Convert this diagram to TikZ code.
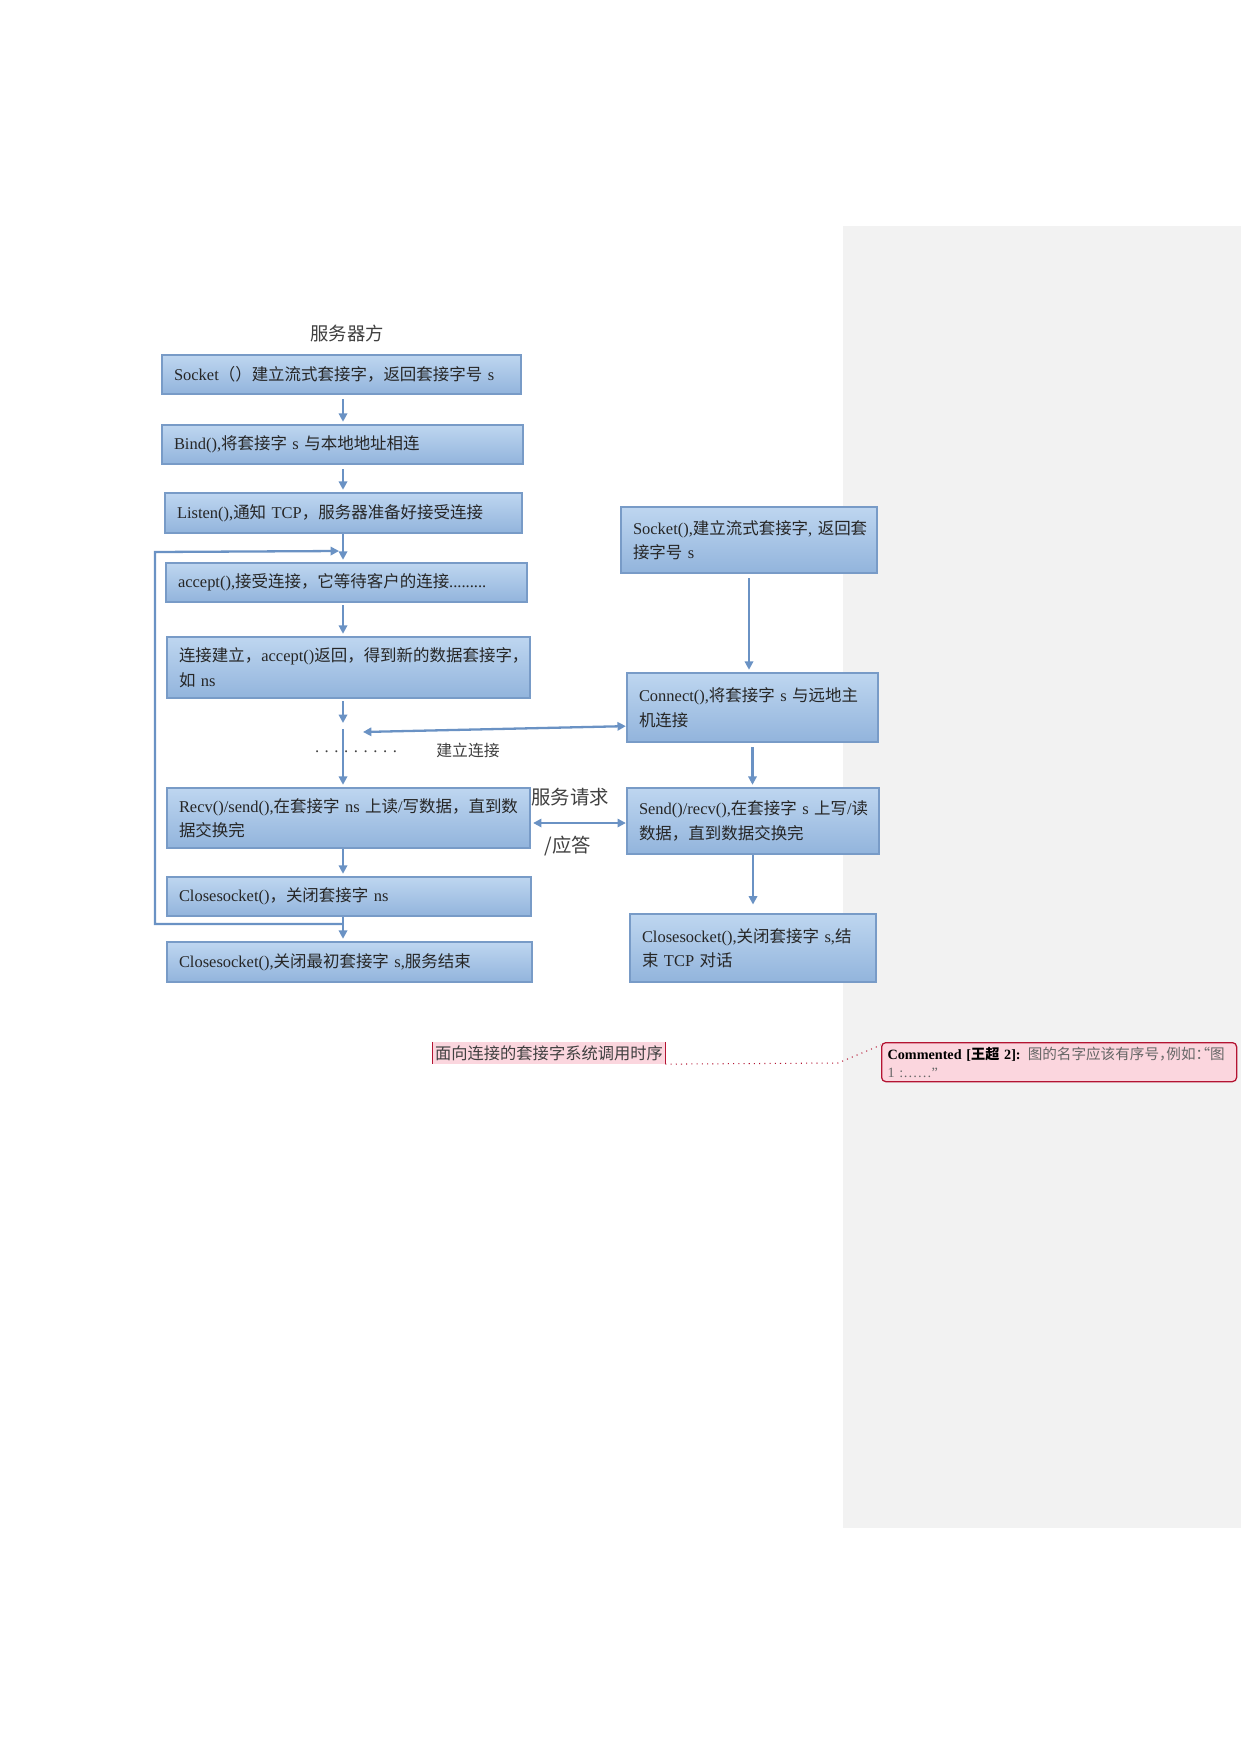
\documentclass[tikz,border=0pt]{standalone}
\usepackage{fontspec}
\setmainfont{Liberation Serif}
\newfontfamily\cjk{Noto Sans CJK SC}
\newfontfamily\cjkh{Noto Sans CJK SC}[RawFeature=+halt]
\newcommand\zh[1]{{\cjk #1}}
\usetikzlibrary{arrows.meta,calc}
\def\pu{0.4797pt}
\definecolor{boxtop}{RGB}{190,214,240}
\definecolor{boxbot}{RGB}{146,180,220}
\definecolor{boxline}{RGB}{120,155,199}
\definecolor{arrowc}{RGB}{106,146,196}
\definecolor{panel}{RGB}{242,242,242}
\definecolor{pinkf}{RGB}{251,214,222}
\definecolor{redl}{RGB}{180,20,50}
\begin{document}
\begin{tikzpicture}[x=0.4797pt,y=-0.4797pt,
  box/.style n args={2}{draw=boxline, line width=1.1pt, top color=boxtop, bottom color=boxbot,
    minimum width=#1*\pu, text width=(#1-24)*\pu, minimum height=#2*\pu,
    inner xsep=12*\pu, inner ysep=0pt, align=left, text=black!85,
    font=\fontsize{7.9}{11.7}\selectfont},
  arr/.style={draw=arrowc, line width=1.1pt, -{Triangle[length=4pt,width=4pt]}},
  darr/.style={draw=arrowc, line width=1.1pt, {Triangle[length=4pt,width=4pt]}-{Triangle[length=4pt,width=4pt]}},
  lbl/.style={text=black!75, inner sep=0pt}]
\fill[white] (0,0) rectangle (1241,1754);
\useasboundingbox (0,0) rectangle (1241,1754);
\fill[panel] (843,226) rectangle (1241,1528);

% title
\node[lbl, font=\cjk\fontsize{8.8}{10}\selectfont] (title) at (347,333) {服务器方};

% server column
\node[box={359}{39}] (s1) at (341.5,374.5) {\mbox{Socket\zh{（）建立流式套接字，返回套接字号} s}};
\node[box={361}{39}] (s2) at (342.5,444.5) {\mbox{Bind(),\zh{将套接字} s \zh{与本地地址相连}}};
\node[box={357}{40}] (s3) at (343.5,513) {\mbox{Listen(),\zh{通知} TCP\zh{，服务器准备好接受连接}}};
\node[box={361}{39}] (s4) at (346.5,582.5) {\mbox{accept(),\zh{接受连接，它等待客户的连接}.........}};
\node[box={363}{61}] (s5) at (348.5,667.5) {\mbox{\zh{连接建立，}accept()\zh{返回，得到新的数据套接字，}}\\\mbox{\zh{如} ns}};
\node[box={363}{60}] (s6) at (348.5,818) {\mbox{Recv()/send(),\zh{在套接字} ns \zh{上读}/\zh{写数据，直到数}}\\\mbox{\zh{据交换完}}};
\node[box={364}{39}] (s7) at (349,896.5) {\mbox{Closesocket()\zh{，关闭套接字} ns}};
\node[box={365}{40}] (s8) at (349.5,962) {\mbox{Closesocket(),\zh{关闭最初套接字} s,\zh{服务结束}}};

% client column
\node[box={256}{66}] (c1) at (749,540) {\mbox{Socket(),\zh{建立流式套接字}, \zh{返回套}}\\\mbox{\zh{接字号} s}};
\node[box={251}{69}] (c2) at (752.5,707.5) {\mbox{Connect(),\zh{将套接字} s \zh{与远地主}}\\\mbox{\zh{机连接}}};
\node[box={252}{66}] (c3) at (753,821) {\mbox{Send()/recv(),\zh{在套接字} s \zh{上写}/\zh{读}}\\\mbox{\zh{数据，直到数据交换完}}};
\node[box={246}{68}] (c4) at (753,948) {\mbox{Closesocket(),\zh{关闭套接字} s,\zh{结}}\\\mbox{\zh{束} TCP \zh{对话}}};

% labels
\node[lbl, font=\fontsize{8}{10}\selectfont] (dots) at (356,752) {. . . . . . . . .};
\node[lbl, font=\cjk\fontsize{7.6}{9}\selectfont] (lconn) at (468,750) {建立连接};
\node[lbl, font=\cjk\fontsize{9.3}{11}\selectfont] (lreq) at (570,797) {服务请求};
\node[lbl, font=\cjk\fontsize{9.3}{11}\selectfont] (lans) at (568,846) {/应答};

% helper coordinates
\coordinate (ax) at (343,0);
\coordinate (d1) at (0,723);
\coordinate (d2) at (0,729);
\coordinate (lp1) at (155,924);
\coordinate (lp2) at (155,552);
\coordinate (lp3) at (339,551);
\coordinate (e1) at (363,732);

% server arrows
\draw[arr, shorten <=2pt, shorten >=1pt] (s1.south -| ax) -- (s2.north -| ax);
\draw[arr, shorten <=2pt, shorten >=1pt] (s2.south -| ax) -- (s3.north -| ax);
\draw[arr, shorten >=1pt] (s3.south -| ax) -- (s4.north -| ax);
\draw[arr, shorten <=1pt, shorten >=1pt] (s4.south -| ax) -- (s5.north -| ax);
\draw[arr, shorten <=1pt] (s5.south -| ax) -- (ax |- d1);
\draw[arr, shorten >=1pt] (ax |- d2) -- (s6.north -| ax);
\draw[arr, shorten >=1pt] (s6.south -| ax) -- (s7.north -| ax);
\draw[arr, shorten >=1pt] (s7.south -| ax) -- (s8.north -| ax);
\draw[arr] (ax |- lp1) -- (lp1) -- (lp2) -- (lp3);

% client arrows
\draw[arr, shorten <=2pt, shorten >=1pt] (c1.south) -- (c1.south |- c2.north);
\draw[arr, shorten <=2pt, shorten >=1pt] (c2.south) -- (c2.south |- c3.north);
\draw[arr, shorten >=4pt] (c3.south) -- (c3.south |- c4.north);
\draw[darr] (e1) -- ($(c2.south west)+(0,-17)$);
\draw[darr] ($(s6.east)+(2,5)$) -- ($(c3.west)+(0,2)$);

% caption and comment
\node[fill=pinkf, inner xsep=1pt, inner ysep=1.5pt, text=black!75,
      font=\cjk\fontsize{7.8}{9}\selectfont] (cap) at (549,1053) {面向连接的套接字系统调用时序};
\draw[redl, line width=0.6pt] (cap.north west) -- (cap.south west);
\draw[redl, line width=0.6pt] (cap.north east) -- (cap.south east);
\node[draw=redl, fill=pinkf, rounded corners=2pt, line width=0.6pt, anchor=north west,
      minimum width=355*\pu, minimum height=39*\pu, text width=343*\pu, inner xsep=6*\pu,
      inner ysep=2pt, align=left, font=\fontsize{6.8}{8.6}\selectfont] (cm) at (881,1042)
  {\mbox{\textbf{Commented [{\cjk\bfseries 王超} 2]:} \textcolor{black!60}{{\cjkh\fontsize{7}{8.6}\selectfont 图的名字应该有序号，例如：“图}}}\\\textcolor{black!60}{1 :……”}};
\coordinate (bend) at (838,1063);
\draw[redl, line width=0.5pt, dotted] (cap.south east) -- (bend) -- ($(cm.north west)+(0,3)$);
\end{tikzpicture}
\end{document}
